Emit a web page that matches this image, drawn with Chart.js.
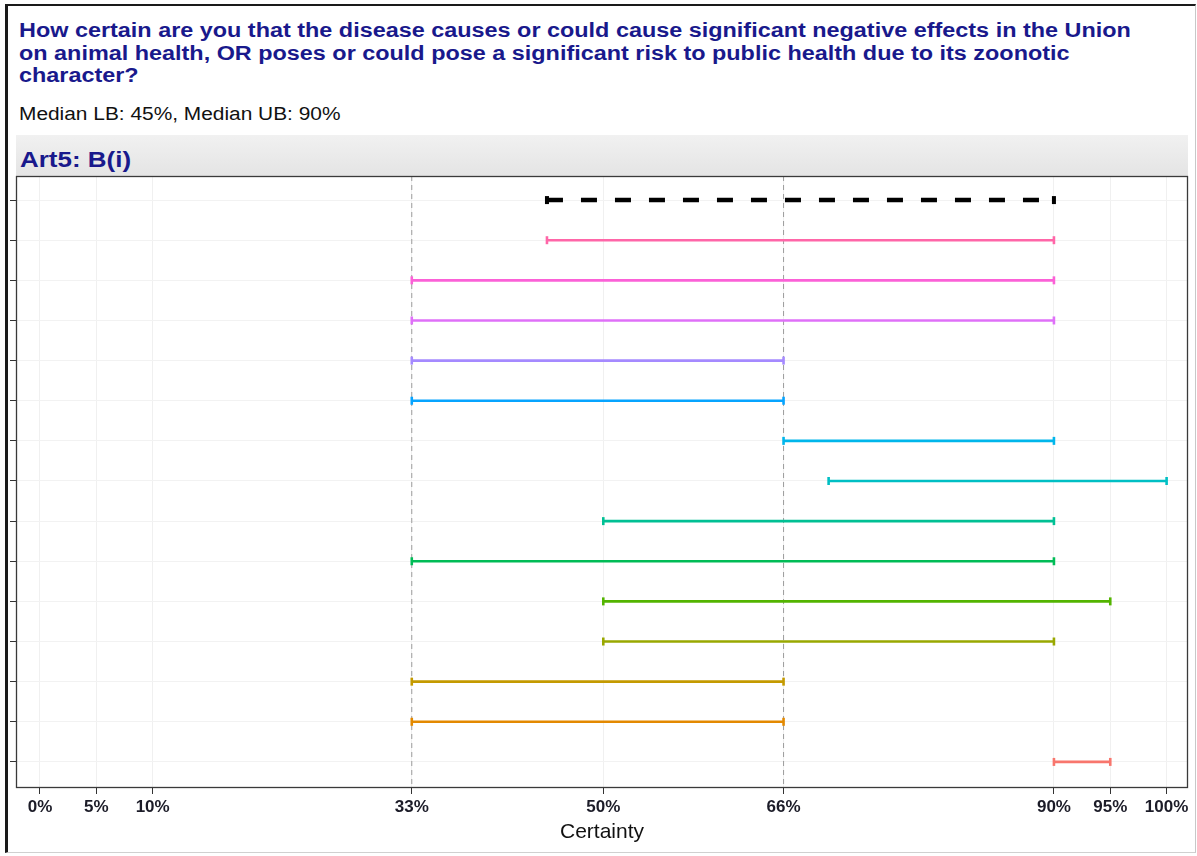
<!DOCTYPE html>
<html>
<head>
<meta charset="utf-8">
<title>Certainty ranges</title>
<script src="https://cdn.jsdelivr.net/npm/chart.js@4.4.0/dist/chart.umd.min.js"></script>
<style>
  html, body { margin: 0; padding: 0; background: #fff; }
  body { width: 1197px; height: 856px; position: relative; overflow: hidden;
         font-family: "Liberation Sans", Arial, sans-serif; }
  #frame { position: absolute; left: 5px; top: 4px; width: 1191px; height: 849px;
           border-left: 3px solid #1a1a1a; border-top: 2px solid #1a1a1a;
           border-right: 1px solid #c8c8c8; border-bottom: 1px solid #d0d0d0; box-sizing: border-box; }
  .wide { transform-origin: 0 0; }
  #title { position: absolute; left: 19px; top: 19px; font-weight: bold; font-size: 20px;
           line-height: 22.5px; color: #19198c; white-space: nowrap; transform: scaleX(1.17); }
  #subtitle { position: absolute; left: 19px; top: 103.5px; font-size: 18px; line-height: 21px;
              color: #111; white-space: nowrap; transform: scaleX(1.16); }
  #strip { position: absolute; left: 16px; top: 135px; width: 1172px; height: 41px;
           background: linear-gradient(#f1f1f1, #e4e4e4); }
  #strip span { position: absolute; left: 4px; top: 12px; font-weight: bold; font-size: 22px;
                line-height: 26px; color: #19198c; white-space: nowrap; transform: scaleX(1.18); }
  #chartWrap { position: absolute; left: 0; top: 0; width: 1197px; height: 856px; }
</style>
</head>
<body>
<div id="frame"></div>
<div id="title" class="wide">How certain are you that the disease causes or could cause significant negative effects in the Union<br>on animal health, OR poses or could pose a significant risk to public health due to its zoonotic<br>character?</div>
<div id="subtitle" class="wide">Median LB: 45%, Median UB: 90%</div>
<div id="strip"><span class="wide">Art5: B(i)</span></div>
<div id="chartWrap"><canvas id="chart" width="1197" height="856"></canvas></div>

<script>
// Certainty ranges, one row per answer (top row = median of all answers)
const lowerBounds = [45, 45, 33, 33, 33, 33, 66, 70, 50, 33, 50, 50, 33, 33, 90];
const upperBounds = [90, 90, 90, 90, 66, 66, 90, 100, 90, 90, 95, 90, 66, 66, 95];

// Axis ticks
const tickValues = [0, 5, 10, 33, 50, 66, 90, 95, 100];
const tickLabels = ['0%', '5%', '10%', '33%', '50%', '66%', '90%', '95%', '100%'];

// Dashed guide lines
const guideValues = [33, 66];

// Row colours, top to bottom
const rowColors = ['#000000', '#FF66A8', '#FB61D7', '#DF70F8', '#A58AFF', '#06A4FF', '#00B6EB',
                   '#00BFC4', '#00C094', '#00BC56', '#53B400', '#99A800', '#C49A00', '#E38900', '#F8766D'];

const FONT = '"Liberation Sans", Arial, sans-serif';
const Y_MIN = -0.6, Y_MAX = 14.65;
const rowIndex = lowerBounds.map((_, i) => i);

const datasets = [];

guideValues.forEach(v => {
  datasets.push({
    data: [{ x: v, y: Y_MIN }, { x: v, y: Y_MAX }],
    borderColor: '#9c9c9c', borderWidth: 1, borderDash: [5, 4],
    pointRadius: 0, order: 10
  });
});

rowIndex.forEach(i => {
  const isMedian = i === 0;
  datasets.push({
    data: [{ x: lowerBounds[i], y: i }, { x: upperBounds[i], y: i }],
    borderColor: rowColors[i],
    borderWidth: isMedian ? 4.5 : 2.6,
    borderDash: isMedian ? [16, 18] : [],
    pointStyle: 'line',
    pointRotation: 90,
    pointRadius: 4,
    pointBorderWidth: isMedian ? 4 : 2.6,
    pointBorderColor: rowColors[i],
    pointBackgroundColor: rowColors[i],
    clip: false,
    order: 0
  });
});

// frame around the plotting panel
const panelBorder = {
  id: 'panelBorder',
  afterDraw(chart) {
    const { ctx, chartArea: a } = chart;
    ctx.save();
    ctx.strokeStyle = '#3a3a3a';
    ctx.lineWidth = 1.3;
    ctx.strokeRect(a.left + 0.5, a.top + 0.5, a.right - a.left - 1, a.bottom - a.top - 1);
    ctx.restore();
  }
};

new Chart(document.getElementById('chart'), {
  type: 'line',
  data: { datasets },
  options: {
    responsive: false,
    animation: false,
    layout: { padding: { left: 10, top: 176, right: 9, bottom: 8 } },
    plugins: { legend: { display: false }, tooltip: { enabled: false } },
    scales: {
      x: {
        type: 'linear', min: -2.13, max: 101.9,
        afterBuildTicks: s => { s.ticks = tickValues.map(v => ({ value: v })); },
        afterFit: s => { s.height = 60; },
        ticks: {
          autoSkip: false, maxRotation: 0, padding: 3, color: '#1c1c28',
          font: { family: FONT, size: 17, weight: 'bold' },
          callback: (v, idx) => tickLabels[idx]
        },
        grid: { color: '#f0f0f0', tickColor: '#333', tickLength: 6 },
        border: { display: false },
        title: {
          display: true, text: 'Certainty', color: '#111',
          font: { family: FONT, size: 21 }, padding: { top: 0, bottom: 3 }
        }
      },
      y: {
        type: 'linear', reverse: true, min: Y_MIN, max: Y_MAX,
        afterBuildTicks: s => { s.ticks = rowIndex.map(v => ({ value: v })); },
        afterFit: s => { s.width = 6; },
        ticks: { display: false },
        grid: { color: '#f2f2f2', tickColor: '#333', tickLength: 6 },
        border: { display: false }
      }
    }
  },
  plugins: [panelBorder]
});
</script>
</body>
</html>
